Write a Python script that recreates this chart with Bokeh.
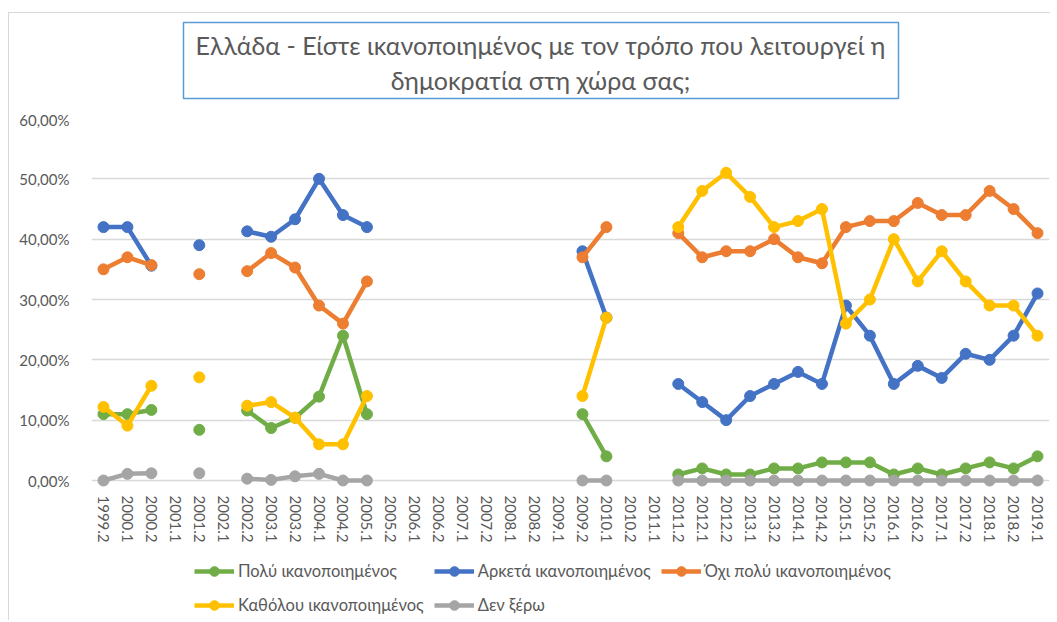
from bokeh.plotting import figure
from bokeh.layouts import column
from bokeh.models import (FactorRange, Range1d, FixedTicker, Legend, LegendItem,
                          BoxAnnotation, Label, ColumnDataSource)
from bokeh.embed import file_html
from bokeh.resources import INLINE

N = float("nan")

periods = ["1999.2", "2000.1", "2000.2", "2001.1", "2001.2", "2002.1", "2002.2",
           "2003.1", "2003.2", "2004.1", "2004.2", "2005.1", "2005.2", "2006.1",
           "2006.2", "2007.1", "2007.2", "2008.1", "2008.2", "2009.1", "2009.2",
           "2010.1", "2010.2", "2011.1", "2011.2", "2012.1", "2012.2", "2013.1",
           "2013.2", "2014.1", "2014.2", "2015.1", "2015.2", "2016.1", "2016.2",
           "2017.1", "2017.2", "2018.1", "2018.2", "2019.1"]

poly = [11, 11, 11.7, N, 8.4, N, 11.6, 8.7, 10.4, 13.9, 24, 11,
        N, N, N, N, N, N, N, N,
        11, 4, N, N,
        1, 2, 1, 1, 2, 2, 3, 3, 3, 1, 2, 1, 2, 3, 2, 4]
arketa = [42, 42, 35.6, N, 39, N, 41.3, 40.4, 43.3, 50, 44, 42,
          N, N, N, N, N, N, N, N,
          38, 27, N, N,
          16, 13, 10, 14, 16, 18, 16, 29, 24, 16, 19, 17, 21, 20, 24, 31]
oxi_poly = [35, 37, 35.7, N, 34.2, N, 34.7, 37.7, 35.3, 29, 26, 33,
            N, N, N, N, N, N, N, N,
            37, 42, N, N,
            41, 37, 38, 38, 40, 37, 36, 42, 43, 43, 46, 44, 44, 48, 45, 41]
katholou = [12.2, 9.1, 15.7, N, 17.1, N, 12.4, 13, 10.4, 6, 6, 14,
            N, N, N, N, N, N, N, N,
            14, 27, N, N,
            42, 48, 51, 47, 42, 43, 45, 26, 30, 40, 33, 38, 33, 29, 29, 24]
den_xero = [0, 1.1, 1.2, N, 1.2, N, 0.3, 0.1, 0.7, 1.1, 0, 0,
            N, N, N, N, N, N, N, N,
            0, 0, N, N,
            0, 0, 0, 0, 0, 0, 0, 0, 0, 0, 0, 0, 0, 0, 0, 0]

series_names = ["Πολύ ικανοποιημένος", "Αρκετά ικανοποιημένος",
                "Όχι πολύ ικανοποιημένος", "Καθόλου ικανοποιημένος", "Δεν ξέρω"]
series_values = [poly, arketa, oxi_poly, katholou, den_xero]
series_colors = ["#70AD47", "#4472C4", "#ED7D31", "#FFC000", "#A5A5A5"]

y_ticks = [0, 10, 20, 30, 40, 50, 60]
y_tick_labels = ["0,00%", "10,00%", "20,00%", "30,00%", "40,00%", "50,00%", "60,00%"]

title_lines = ["Ελλάδα - Είστε ικανοποιημένος με τον τρόπο που λειτουργεί η",
               "δημοκρατία στη χώρα σας;"]

FONT = "Lato"
TXT = "#595959"
BORDER = "#D9D9D9"
W = 1041          # figure width (content starts at page x = 9)
LEFT = 82         # frame starts at page x = 91
FX0, FX1 = 91, 1049   # frame extent in page pixels


def blank_fig(y_top, y_bottom):
    h = y_bottom - y_top
    f = figure(width=W, height=h, output_backend="svg", toolbar_location=None,
               x_range=Range1d(FX0, FX1), y_range=Range1d(y_bottom, y_top),
               x_axis_type=None, y_axis_type=None)
    f.min_border_left = LEFT
    f.min_border_right = 1
    f.min_border_top = f.min_border_bottom = 0
    f.outline_line_color = None
    f.xgrid.visible = False
    f.ygrid.visible = False
    return f


# ---- title (page y 13..110) ----
pt = blank_fig(13, 110)
pt.add_layout(BoxAnnotation(left=183, right=898, top=22, bottom=98,
                            fill_alpha=0, line_color="#5B9BD5", line_alpha=1.0,
                            line_width=1.5))
for txt, yy in zip(title_lines, [44, 79]):
    pt.add_layout(Label(x=540, y=yy, text=txt, text_align="center",
                        text_baseline="middle", text_font=FONT,
                        text_font_size="25px", text_color=TXT))

# ---- main chart (page y 110..545) ----
p = figure(width=W, height=435, output_backend="svg", toolbar_location=None,
           x_range=FactorRange(factors=periods, range_padding=0),
           y_range=Range1d(-1.16, 60))
p.min_border_left = LEFT
p.min_border_right = 1
p.min_border_top = 8
p.min_border_bottom = 57
p.outline_line_color = None

p.xgrid.grid_line_color = None
p.ygrid.grid_line_color = BORDER
p.ygrid.grid_line_width = 1.3
p.yaxis.ticker = FixedTicker(ticks=y_ticks)
p.yaxis.major_label_overrides = {t: l for t, l in zip(y_ticks, y_tick_labels)}
for ax in (p.xaxis, p.yaxis):
    ax.axis_line_color = None
    ax.major_tick_line_color = None
    ax.minor_tick_line_color = None
    ax.major_label_text_color = TXT
    ax.major_label_text_font = FONT
    ax.major_label_text_font_size = "15px"
p.yaxis.major_label_standoff = 16
p.xaxis.major_label_standoff = 2
p.xaxis.major_label_orientation = "vertical"

for vals, col in zip(series_values, series_colors):
    src = ColumnDataSource(dict(x=periods, y=vals))
    p.line("x", "y", source=src, line_color=col, line_width=4.5,
           line_join="round", line_cap="round")
    p.scatter("x", "y", source=src, size=11, fill_color=col, line_color=col)

# ---- legend (page y 545..620) ----
pl = blank_fig(545, 620)
items = []
for name, col in zip(series_names, series_colors):
    proxy = ColumnDataSource(dict(x=[N], y=[N]))
    lr = pl.line("x", "y", source=proxy, line_color=col, line_width=4.5)
    sr = pl.scatter("x", "y", source=proxy, size=11, fill_color=col, line_color=col)
    items.append(LegendItem(label=name, renderers=[lr, sr]))
legend = Legend(items=items, orientation="horizontal", ncols=3,
                label_text_font=FONT, label_text_font_size="16.5px",
                label_text_color=TXT, glyph_width=40, glyph_height=24,
                label_height=24, spacing=10, padding=0, margin=0,
                border_line_color=None, background_fill_alpha=0,
                location=(103, 3), label_standoff=4)
pl.add_layout(legend)

layout = column(pt, p, pl, spacing=0, margin=(12, 0, 0, 8),
                styles={"border-left": "1px solid #D9D9D9",
                        "border-top": "1px solid #D9D9D9"})
open("out.html", "w").write(file_html(layout, INLINE))
